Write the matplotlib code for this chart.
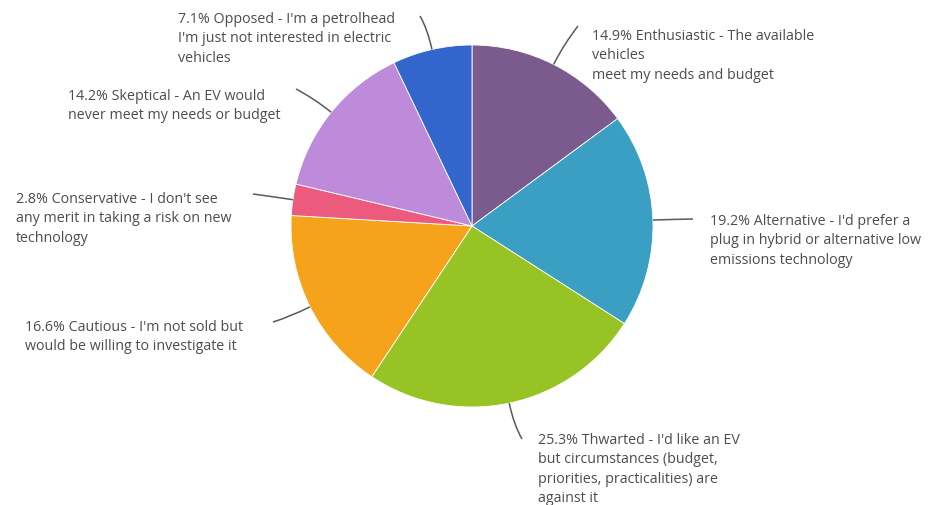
import numpy as np
import matplotlib
matplotlib.use('Agg')
import matplotlib.pyplot as plt
from matplotlib.path import Path
from matplotlib.patches import PathPatch

# EV attitude survey results, clockwise from 12 o'clock
labels = [
    "14.9% Enthusiastic - The available\nvehicles\nmeet my needs and budget",
    "19.2% Alternative - I'd prefer a\nplug in hybrid or alternative low\nemissions technology",
    "25.3% Thwarted - I'd like an EV\nbut circumstances (budget,\npriorities, practicalities) are\nagainst it",
    "16.6% Cautious - I'm not sold but\nwould be willing to investigate it",
    "2.8% Conservative - I don't see\nany merit in taking a risk on new\ntechnology",
    "14.2% Skeptical - An EV would\nnever meet my needs or budget",
    "7.1% Opposed - I'm a petrolhead\nI'm just not interested in electric\nvehicles",
]
shares = [14.9, 19.2, 25.3, 16.6, 2.8, 14.2, 7.1]
colors = ['#7b5a8e', '#3a9fc2', '#97c424', '#f5a31b', '#ec5b7e', '#bd8bd9', '#3366cc']

# label placement in pixels (top-left of text, end of leader line)
text_pos = [(592, 29), (710, 214), (538, 433), (25, 320), (16, 192), (68, 89), (178, 12)]
leader_end = [(578, 27), (693, 220), (522, 440), (273, 323), (253, 195), (296, 90), (420, 17)]

W, H = 931, 506
cx, cy, R = 472, 227, 181

fig = plt.figure(figsize=(W / 100, H / 100), dpi=100)
ax = fig.add_axes([0, 0, 1, 1])

wedges, _ = ax.pie(shares, colors=colors, startangle=90, counterclock=False,
                   center=(cx, H - cy), radius=R,
                   wedgeprops=dict(edgecolor='white', linewidth=0.6))
ax.set_xlim(0, W)
ax.set_ylim(0, H)
ax.set_aspect('auto')
ax.axis('off')

for w, lab, (tx, ty), (ex, ey) in zip(wedges, labels, text_pos, leader_end):
    mid = np.deg2rad((w.theta1 + w.theta2) / 2)
    sx, sy = cx + R * np.cos(mid), (H - cy) + R * np.sin(mid)
    kx, ky = cx + (R + 22) * np.cos(mid), (H - cy) + (R + 22) * np.sin(mid)
    path = Path([(sx, sy), (kx, ky), (ex, H - ey)],
                [Path.MOVETO, Path.CURVE3, Path.CURVE3])
    ax.add_patch(PathPatch(path, fc='none', ec='#5a5a5a', lw=1.1))
    ax.text(tx, H - ty, lab, ha='left', va='top', fontsize=10.3,
            family='Open Sans', color='#4d4d4d', linespacing=1.4)

fig.savefig('out.png', dpi=100)
